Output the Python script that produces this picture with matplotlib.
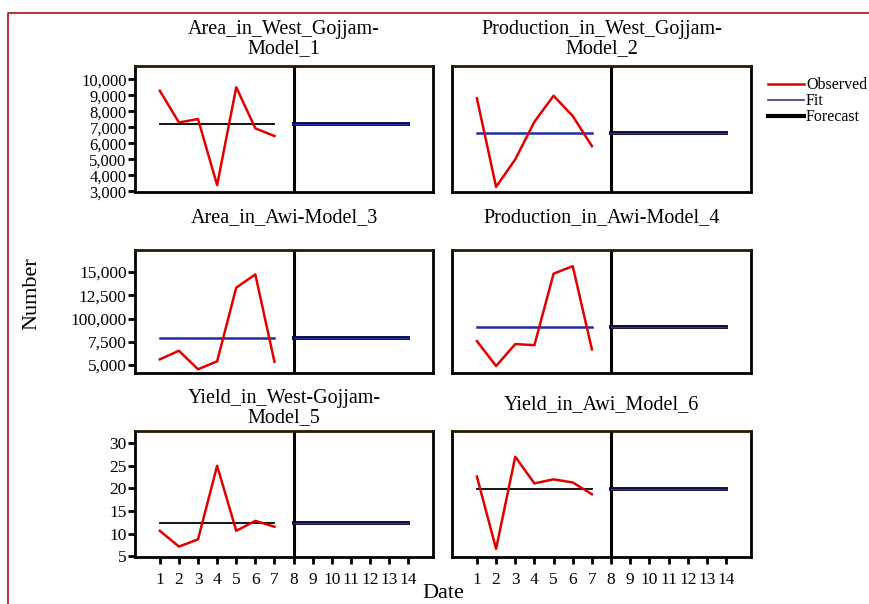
import matplotlib
matplotlib.use('Agg')
import matplotlib.pyplot as plt
from matplotlib.lines import Line2D

plt.rcParams['font.family'] = ['Liberation Serif', 'DejaVu Serif']

# observed values for dates 1..7
obs_dates = [1, 2, 3, 4, 5, 6, 7]
fc_dates = [8, 9, 10, 11, 12, 13, 14]

titles = [
    'Area_in_West_Gojjam-\nModel_1',
    'Production_in_West_Gojjam-\nModel_2',
    'Area_in_Awi-Model_3',
    'Production_in_Awi-Model_4',
    'Yield_in_West-Gojjam-\nModel_5',
    'Yield_in_Awi_Model_6',
]

area_wg = [9280, 7300, 7510, 3380, 9500, 6930, 6450]
prod_wg = [8810, 3270, 4990, 7340, 8970, 7700, 5820]
area_awi = [5610, 6530, 4540, 5400, 13330, 14750, 5350]
prod_awi = [7570, 4890, 7250, 7140, 14830, 15640, 6680]
yield_wg = [10.6, 7.1, 8.7, 25.0, 10.6, 12.8, 11.5]
yield_awi = [22.6, 6.6, 27.0, 21.1, 22.0, 21.3, 18.7]

fit_vals = [7220, 6650, 7890, 9100, 12.4, 19.9]
observed = [area_wg, prod_wg, area_awi, prod_awi, yield_wg, yield_awi]

# y ticks only on the left column
row_ticks = [
    [3000, 4000, 5000, 6000, 7000, 8000, 9000, 10000],
    [5000, 7500, 10000, 12500, 15000],
    [5, 10, 15, 20, 25, 30],
]
row_ticklabels = [
    ['3,000', '4,000', '5,000', '6,000', '7,000', '8,000', '9,000', '10,000'],
    ['5,000', '7,500', '100,000', '12,500', '15,000'],
    ['5', '10', '15', '20', '25', '30'],
]
row_ylim = [(2950, 10830), (4140, 17380), (4.8, 32.7)]
x_ticks = list(range(1, 15))

fit_colors = ['black', '#1f2f9f', '#1f2f9f', '#1f2f9f', 'black', 'black']
fit_widths = [1.3, 1.8, 1.8, 1.8, 1.3, 1.3]
orange = '#e0a020'

fig = plt.figure(figsize=(8.7, 6.04), dpi=100)
W, H = 870, 604


def box(x0, y0, x1, y1):
    return [x0 / W, 1 - y1 / H, (x1 - x0) / W, (y1 - y0) / H]


cols = [(135, 433), (452, 751)]
rows = [(66, 192), (250, 373), (431, 557)]
title_y = [[39, 39], [218, 218], [408, 405]]

for i in range(6):
    r, c = divmod(i, 2)
    ax = fig.add_axes(box(cols[c][0], rows[r][0], cols[c][1], rows[r][1]))
    ax.set_xlim(-0.3, 15.3)
    ax.set_ylim(*row_ylim[r])

    ax.plot(obs_dates, [fit_vals[i]] * 7, color=fit_colors[i], lw=fit_widths[i], zorder=3)
    ax.plot(obs_dates, observed[i], color='#e00000', lw=1.8, zorder=4)
    ax.plot(fc_dates, [fit_vals[i]] * 7, color='#0a0a3a', lw=2.8, zorder=3)
    ax.plot(fc_dates, [fit_vals[i]] * 7, color='#2a3ab0', lw=0.8, zorder=3)
    ax.axvline(8, color='black', lw=2.2, zorder=2)

    for s in ax.spines.values():
        s.set_linewidth(2.0)
    ax.spines['top'].set_color('#2a1a00')

    if c == 0:
        ax.set_yticks(row_ticks[r])
        ax.set_yticklabels(row_ticklabels[r], fontsize=12.5 if r else 12)
        ax.tick_params(axis='y', direction='out', length=5, width=2, pad=1)
        for k, t in enumerate(ax.yaxis.get_major_ticks()):
            t.tick1line.set_color(orange if (len(row_ticks[r]) - k) % 2 == 0 else 'black')
    else:
        ax.set_yticks([])

    if r == 2:
        ax.set_xticks(x_ticks)
        ax.set_xticklabels([str(v) for v in x_ticks], fontsize=12.5)
        ax.tick_params(axis='x', direction='out', length=5, width=2, pad=6)
        tick_cols = [orange, 'black', 'black', 'black', orange, orange, 'black',
                     'black', orange, orange, 'black', 'black', 'black', orange]
        for t, col in zip(ax.xaxis.get_major_ticks(), tick_cols):
            t.tick1line.set_color(col)
    else:
        ax.set_xticks([])

    cx = (cols[c][0] + cols[c][1]) / 2
    fig.text(cx / W, 1 - title_y[r][c] / H, titles[i], ha='center', va='center',
             fontsize=14.5, linespacing=0.95)

fig.text(32 / W, 1 - 294 / H, 'Number', rotation=90, ha='center', va='center', fontsize=16)
fig.text(443 / W, 1 - 593 / H, 'Date', ha='center', va='center', fontsize=16)

handles = [
    Line2D([], [], color='#e00000', lw=1.8),
    Line2D([], [], color='#4a2a8a', lw=1.2),
    Line2D([], [], color='black', lw=3),
]
fig.legend(handles, ['Observed', 'Fit', 'Forecast'], loc='upper left',
           bbox_to_anchor=(762 / W, 1 - 71 / H), frameon=False, fontsize=11.5,
           handlelength=2.2, handletextpad=0.15, labelspacing=0.0, borderaxespad=0)

# red page border on left and top
fig.add_artist(Line2D([8 / W, 8 / W, 1], [0, 1 - 13 / H, 1 - 13 / H],
                      color='#a81010', lw=1.2, transform=fig.transFigure))

fig.savefig('out.png', dpi=100)
